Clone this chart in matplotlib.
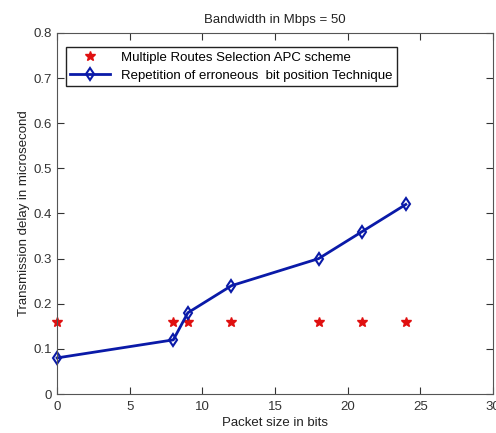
import matplotlib
matplotlib.use("Agg")
import matplotlib.pyplot as plt

packet_size = [0, 8, 9, 12, 18, 21, 24]
apc_delay = [0.16, 0.16, 0.16, 0.16, 0.16, 0.16, 0.16]
rep_delay = [0.08, 0.12, 0.18, 0.24, 0.30, 0.36, 0.42]

x_ticks = [0, 5, 10, 15, 20, 25, 30]
y_ticks = [0, 0.1, 0.2, 0.3, 0.4, 0.5, 0.6, 0.7, 0.8]
y_labels = ["0", "0.1", "0.2", "0.3", "0.4", "0.5", "0.6", "0.7", "0.8"]

plt.rcParams["font.family"] = ["Liberation Sans", "DejaVu Sans"]
plt.rcParams["font.size"] = 9.5

fig = plt.figure(figsize=(4.96, 4.33), dpi=100)
ax = fig.add_axes([0.115, 0.090, 0.879, 0.834])

ax.plot(packet_size, apc_delay, linestyle="none", marker="*", color="#e01010",
        markersize=7, markeredgewidth=1, clip_on=False,
        label="Multiple Routes Selection APC scheme")
ax.plot(packet_size, rep_delay, color="#0a1aa8", linewidth=2, marker="d",
        markersize=6, markerfacecolor="none", markeredgewidth=1.5, clip_on=False,
        label="Repetition of erroneous  bit position Technique")

ax.set_xlim(0, 30)
ax.set_ylim(0, 0.8)
ax.set_xticks(x_ticks)
ax.set_yticks(y_ticks)
ax.set_yticklabels(y_labels)
ax.tick_params(direction="in", top=True, right=True, length=5, colors="#333333",
               labelsize=9.5)
ax.tick_params(axis="x", pad=5)
for s in ax.spines.values():
    s.set_color("#555555")

ax.set_title("Bandwidth in Mbps = 50", fontsize=9.5, color="#222222", pad=7)
ax.set_xlabel("Packet size in bits", fontsize=9.5, color="#222222", labelpad=3)
ax.set_ylabel("Transmission delay in microsecond", fontsize=9.5, color="#222222",
              labelpad=3)

leg = ax.legend(loc="upper left", bbox_to_anchor=(0.005, 0.98), fancybox=False,
                edgecolor="#222222", framealpha=1, fontsize=9.5, handlelength=3,
                borderpad=0.35, labelspacing=0.45)
leg.get_frame().set_linewidth(1)

fig.savefig("out.png", dpi=100)
